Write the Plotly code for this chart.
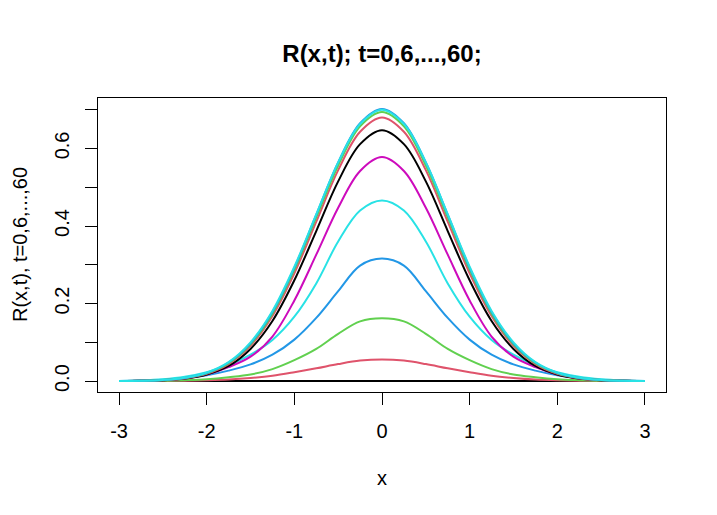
import plotly.graph_objects as go

# x grid and R(x,t), one list per t
x = [-3, -2.75, -2.5, -2.25, -2, -1.75, -1.5, -1.25, -1, -0.75, -0.5, -0.25, 0,
     0.25, 0.5, 0.75, 1, 1.25, 1.5, 1.75, 2, 2.25, 2.5, 2.75, 3]

t_vals = [0, 6, 12, 18, 24, 30, 36, 42, 48, 54, 60]

r_t0 = [0.0] * 25
r_t6 = [0.0, 0.0001, 0.0004, 0.001, 0.002, 0.004, 0.008, 0.014, 0.023, 0.033, 0.044, 0.053, 0.056,
        0.053, 0.044, 0.033, 0.023, 0.014, 0.008, 0.004, 0.002, 0.001, 0.0004, 0.0001, 0.0]
r_t12 = [0.0001, 0.0004, 0.001, 0.0025, 0.005, 0.010, 0.017, 0.031, 0.054, 0.083, 0.122, 0.154, 0.162,
         0.154, 0.122, 0.083, 0.054, 0.031, 0.017, 0.010, 0.005, 0.0025, 0.001, 0.0004, 0.0001]
r_t18 = [0.0004, 0.0013, 0.0035, 0.008, 0.015, 0.027, 0.043, 0.068, 0.107, 0.163, 0.232, 0.298, 0.316,
         0.298, 0.232, 0.163, 0.107, 0.068, 0.043, 0.027, 0.015, 0.008, 0.0035, 0.0013, 0.0004]
r_t24 = [0.0004, 0.0015, 0.0045, 0.011, 0.023, 0.041, 0.068, 0.106, 0.166, 0.252, 0.360, 0.440, 0.466,
         0.440, 0.360, 0.252, 0.166, 0.106, 0.068, 0.041, 0.023, 0.011, 0.0045, 0.0015, 0.0004]
r_t30 = [0.0002, 0.0008, 0.0025, 0.007, 0.017, 0.036, 0.063, 0.115, 0.208, 0.326, 0.447, 0.542, 0.578,
         0.542, 0.447, 0.326, 0.208, 0.115, 0.063, 0.036, 0.017, 0.007, 0.0025, 0.0008, 0.0002]
r_t36 = [0.0002, 0.0006, 0.0021, 0.0064, 0.017, 0.039, 0.083, 0.155, 0.260, 0.387, 0.515, 0.611, 0.647,
         0.611, 0.515, 0.387, 0.260, 0.155, 0.083, 0.039, 0.017, 0.0064, 0.0021, 0.0006, 0.0002]
r_t42 = [0.0002, 0.0008, 0.0026, 0.0074, 0.019, 0.044, 0.091, 0.168, 0.278, 0.411, 0.544, 0.643, 0.680,
         0.643, 0.544, 0.411, 0.278, 0.168, 0.091, 0.044, 0.019, 0.0074, 0.0026, 0.0008, 0.0002]
r_t48 = [0.0002, 0.0009, 0.0028, 0.0079, 0.020, 0.046, 0.095, 0.174, 0.287, 0.422, 0.556, 0.657, 0.694,
         0.657, 0.556, 0.422, 0.287, 0.174, 0.095, 0.046, 0.020, 0.0079, 0.0028, 0.0009, 0.0002]
r_t54 = [0.0003, 0.0009, 0.0029, 0.0083, 0.021, 0.048, 0.0975, 0.178, 0.292, 0.429, 0.564, 0.665, 0.702,
         0.665, 0.564, 0.429, 0.292, 0.178, 0.0975, 0.048, 0.021, 0.0083, 0.0029, 0.0009, 0.0003]
r_t60 = [0.0003, 0.0010, 0.0031, 0.0088, 0.022, 0.049, 0.100, 0.181, 0.295, 0.430, 0.564, 0.663, 0.700,
         0.663, 0.564, 0.430, 0.295, 0.181, 0.100, 0.049, 0.022, 0.0088, 0.0031, 0.0010, 0.0003]

curves = [r_t0, r_t6, r_t12, r_t18, r_t24, r_t30, r_t36, r_t42, r_t48, r_t54, r_t60]

# matplot default col=1:6 with R4 palette
pal = ["#000000", "#DF536B", "#61D04F", "#2297E6", "#28E2E5", "#CD0BBC"]

y_ticks = [0, 0.1, 0.2, 0.3, 0.4, 0.5, 0.6, 0.7]
y_ticktext = ["0.0", "", "0.2", "", "0.4", "", "0.6", ""]
x_ticks = [-3, -2, -1, 0, 1, 2, 3]
x_ticktext = ["-3", "-2", "-1", "0", "1", "2", "3"]

fig = go.Figure()
for i, (t, r) in enumerate(zip(t_vals, curves)):
    fig.add_trace(go.Scatter(x=x, y=r, mode="lines", name="t=%d" % t,
                             line=dict(color=pal[i % 6], width=2, shape="spline")))

font = dict(family="Liberation Sans, Arial, sans-serif", size=20, color="black")

# page is drawn with an 8px body margin, so shift everything up/left
fig.update_layout(
    width=717, height=515,
    margin=dict(l=90, r=59, t=90, b=131),
    paper_bgcolor="white", plot_bgcolor="white",
    showlegend=False,
    font=font,
    title=dict(text="R(x,t); t=0,6,...,60;", x=374 / 717, xanchor="center",
               y=1 - 46 / 515, yanchor="middle",
               font=dict(family="Liberation Sans, Arial, sans-serif", size=24,
                         color="black", weight="bold")),
)
fig.update_xaxes(range=[-3.24, 3.24], tickvals=x_ticks, ticktext=x_ticktext,
                 ticks="outside", ticklen=12,
                 tickcolor="black", showline=True, linecolor="black", linewidth=1,
                 mirror=True, showgrid=False, zeroline=False, ticklabelstandoff=9)
fig.update_yaxes(range=[-0.0281, 0.7301], tickvals=y_ticks, ticktext=y_ticktext,
                 ticks="outside", ticklen=12, tickangle=-90,
                 tickcolor="black", showline=True, linecolor="black", linewidth=1,
                 mirror=True, showgrid=False, zeroline=False, ticklabelstandoff=8)

fig.add_annotation(text="x", xref="paper", yref="paper", x=0.5, y=0, yshift=-86,
                   xanchor="center", yanchor="middle", showarrow=False, font=font)
fig.add_annotation(text="R(x,t), t=0,6,...,60", xref="paper", yref="paper", x=0, y=0.5,
                   xshift=-78, xanchor="center", yanchor="middle", textangle=-90,
                   showarrow=False, font=font)

fig.write_html("out.html")
